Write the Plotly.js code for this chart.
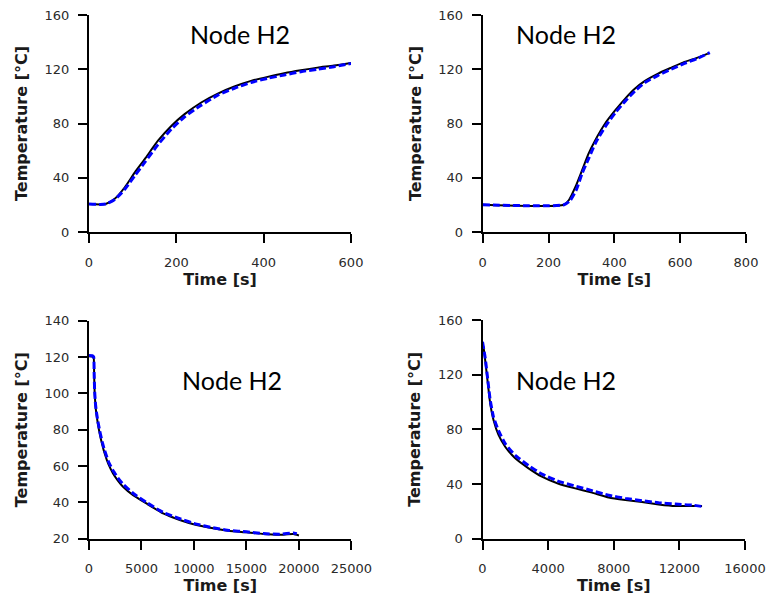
<!DOCTYPE html>
<html>
<head>
<meta charset="utf-8">
<script src="https://cdn.plot.ly/plotly-3.0.1.min.js"></script>
<style>html,body{margin:0;padding:0;background:#fff;}#chart{width:770px;height:600px;}</style>
</head>
<body>
<div id="chart"></div>
<script>
// ---- Data ----
// Panel 1 (top-left): heating, 0-600 s
const p1TimeMeas = [0, 38, 59, 82, 105, 128, 158, 189, 219, 257, 295, 333, 371, 409, 447, 485, 523, 561, 600];
const p1TempMeas = [20.6, 20.6, 24.5, 33.0, 44.0, 53.9, 67.3, 78.4, 86.9, 95.5, 102.1, 107.3, 111.4, 114.4, 117.1, 119.3, 121.2, 122.7, 124.6];
const p1TimeSim  = [0, 38, 59, 82, 105, 128, 158, 189, 219, 257, 295, 333, 371, 409, 447, 485, 523, 561, 600];
const p1TempSim  = [20.6, 20.6, 24.0, 31.5, 41.6, 51.5, 64.4, 76.0, 85.0, 93.5, 100.9, 106.0, 110.2, 113.3, 115.8, 118.2, 120.0, 121.9, 124.3];

// Panel 2 (top-right): heating, 0-700 s
const p2TimeMeas = [0, 247, 262, 282, 302, 322, 342, 372, 403, 433, 463, 493, 533, 573, 613, 653, 684];
const p2TempMeas = [20.1, 20.1, 23.6, 33.4, 45.6, 57.9, 67.7, 80.0, 89.8, 98.4, 105.8, 111.4, 116.8, 121.2, 125.4, 128.6, 131.5];
const p2TimeSim  = [0, 247, 265, 285, 302, 322, 342, 372, 403, 433, 463, 493, 533, 573, 613, 653, 690];
const p2TempSim  = [20.1, 20.1, 23.0, 31.5, 43.2, 54.2, 65.3, 77.5, 87.9, 96.5, 104.0, 110.2, 115.5, 120.0, 124.3, 128.0, 132.3];

// Panel 3 (bottom-left): cooling, 0-20000 s
const p3TimeMeas = [0, 300, 445, 490, 540, 620, 699, 850, 1017, 1250, 1494, 1850, 2289, 2750, 3243, 4196, 5468, 7058, 8647, 10237, 11827, 13417, 15007, 16597, 18186, 19458, 20000];
const p3TempMeas = [120.4, 120.3, 119.5, 110.0, 100.0, 93.0, 88.9, 83.0, 77.9, 72.0, 66.9, 61.0, 55.9, 52.0, 48.6, 44.0, 39.4, 33.9, 30.3, 27.5, 25.7, 24.2, 23.5, 22.6, 22.2, 22.6, 21.8];
const p3TimeSim  = [0, 300, 445, 490, 540, 620, 699, 850, 1017, 1250, 1494, 1850, 2289, 2750, 3243, 4196, 5468, 7058, 8647, 10237, 11827, 13417, 15007, 16597, 18186, 19458, 19800];
const p3TempSim  = [120.8, 120.7, 120.0, 111.0, 101.0, 94.0, 90.0, 84.5, 79.5, 73.5, 68.5, 62.5, 57.5, 53.5, 50.0, 45.0, 40.0, 34.5, 31.0, 28.0, 26.0, 24.5, 23.8, 22.8, 22.5, 23.2, 22.8];

// Panel 4 (bottom-right): cooling, 0-13500 s
const p4TimeMeas = [61, 163, 325, 468, 671, 976, 1383, 1993, 2807, 3620, 4637, 5654, 6671, 7688, 8705, 9722, 10738, 11755, 12773, 13382];
const p4TempMeas = [140.5, 130.7, 113.7, 99.0, 86.8, 75.9, 67.3, 58.8, 51.5, 45.4, 40.2, 36.8, 33.7, 30.2, 28.3, 26.8, 25.1, 23.9, 23.9, 23.9];
const p4TimeSim  = [0, 163, 325, 468, 671, 976, 1383, 1993, 2807, 3620, 4637, 5654, 6671, 7688, 8705, 9722, 10738, 11755, 12773, 13480];
const p4TempSim  = [144.0, 132.5, 116.0, 101.5, 89.0, 79.0, 69.5, 61.0, 53.5, 47.3, 42.0, 38.5, 35.2, 31.8, 29.5, 27.8, 26.3, 25.3, 24.6, 23.4];

// Axis settings
const panelLabel = "Node H2";
const xTitle = "Time [s]";
const yTitle = "Temperature [°C]";
const xRanges = [[0, 600], [0, 800], [0, 25000], [0, 16000]];
const xSteps  = [200, 200, 5000, 4000];
const yRanges = [[0, 160], [0, 160], [20, 140], [0, 160]];
const ySteps  = [40, 40, 20, 40];

// ---- Layout geometry (pixels in a 770x600 page) ----
const W = 770, H = 600;
const boxes = [
  {l: 89,    r: 351,   t: 15,    b: 232},
  {l: 482.7, r: 746,   t: 15,    b: 232},
  {l: 89,    r: 351.4, t: 320.7, b: 538.7},
  {l: 482.5, r: 745,   t: 320,   b: 538.7}
];
const labelPos = [[240, 34], [566, 34], [232, 380], [566, 380]];
const smooth = [0.6, 0.6, 0.4, 0.4];

const series = [
  [p1TimeMeas, p1TempMeas, p1TimeSim, p1TempSim],
  [p2TimeMeas, p2TempMeas, p2TimeSim, p2TempSim],
  [p3TimeMeas, p3TempMeas, p3TimeSim, p3TempSim],
  [p4TimeMeas, p4TempMeas, p4TimeSim, p4TempSim]
];

const traces = [];
const layout = {
  width: W, height: H,
  margin: {l: 0, r: 0, t: 0, b: 0},
  paper_bgcolor: '#ffffff', plot_bgcolor: '#ffffff',
  showlegend: false,
  annotations: []
};

const tickFont = {family: 'DejaVu Sans, Liberation Sans, Arial, sans-serif', size: 13, color: '#2a2a2a'};
const titleFont = {family: 'DejaVu Sans, Liberation Sans, Arial, sans-serif', size: 16, color: '#1a1a1a', weight: 'bold'};

for (let i = 0; i < 4; i++) {
  const n = i === 0 ? '' : String(i + 1);
  const bx = boxes[i];
  const [tm, Tm, ts, Ts] = series[i];
  traces.push({
    x: tm, y: Tm, type: 'scatter', mode: 'lines',
    xaxis: 'x' + n, yaxis: 'y' + n,
    line: {color: '#000000', width: 2, shape: 'spline', smoothing: smooth[i]},
    name: 'Measured', hoverinfo: 'skip'
  });
  traces.push({
    x: ts, y: Ts, type: 'scatter', mode: 'lines',
    xaxis: 'x' + n, yaxis: 'y' + n,
    line: {color: '#0000ff', width: 3, dash: '7px,3px', shape: 'spline', smoothing: smooth[i]},
    name: 'Simulated', hoverinfo: 'skip'
  });
  layout['xaxis' + n] = {
    domain: [bx.l / W, bx.r / W],
    anchor: 'y' + n,
    range: xRanges[i], dtick: xSteps[i], tick0: 0, tickmode: 'linear',
    tickformat: 'd',
    showgrid: false, zeroline: false,
    showline: true, linecolor: '#000000', linewidth: 2,
    ticks: 'outside', ticklen: 9, tickwidth: 2, tickcolor: '#000000',
    tickfont: tickFont, ticklabelstandoff: 8,
    title: {text: xTitle, font: titleFont, standoff: 4},
    fixedrange: true
  };
  layout['yaxis' + n] = {
    domain: [1 - bx.b / H, 1 - bx.t / H],
    anchor: 'x' + n,
    range: yRanges[i], dtick: ySteps[i], tick0: 0, tickmode: 'linear',
    tickformat: 'd',
    showgrid: false, zeroline: false,
    showline: true, linecolor: '#000000', linewidth: 2,
    ticks: 'outside', ticklen: 9, tickwidth: 2, tickcolor: '#000000',
    tickfont: tickFont, ticklabelstandoff: 6,
    title: {text: yTitle, font: titleFont, standoff: 13},
    fixedrange: true
  };
  layout.annotations.push({
    text: panelLabel, xref: 'paper', yref: 'paper',
    x: labelPos[i][0] / W, y: 1 - labelPos[i][1] / H,
    xanchor: 'center', yanchor: 'middle', showarrow: false,
    font: {family: 'Lato, Open Sans, sans-serif', size: 25, color: '#000000'}
  });
}

Plotly.newPlot('chart', traces, layout, {staticPlot: true, displayModeBar: false});
</script>
</body>
</html>
